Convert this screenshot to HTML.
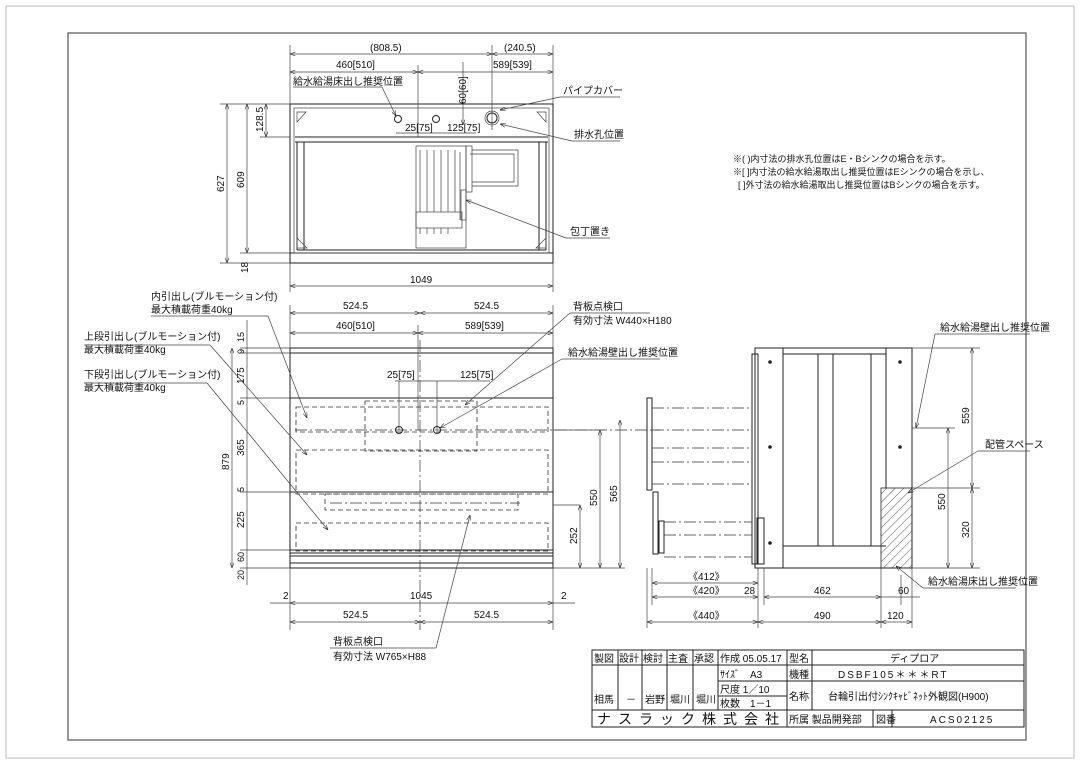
<!DOCTYPE html><html><head><meta charset="utf-8"><style>
body{margin:0;background:#fff}svg{display:block}
text{font-family:"Liberation Sans","Noto Sans CJK JP",sans-serif;font-size:10px;fill:#111}
.l{stroke:#222;stroke-width:1;fill:none}.t{stroke:#444;stroke-width:.7;fill:none}
.d{stroke:#333;stroke-width:.8;fill:none;stroke-dasharray:5 3}
.c{stroke:#333;stroke-width:.7;fill:none;stroke-dasharray:12 3 2 3}
</style></head><body>
<svg width="1080" height="764" viewBox="0 0 1080 764">
<defs><marker id="a" markerWidth="8" markerHeight="6" refX="8" refY="3" orient="auto-start-reverse"><path d="M0,0L8,3L0,6" fill="none" stroke="#222" stroke-width=".8"/></marker>
<pattern id="h" width="6" height="6" patternUnits="userSpaceOnUse" patternTransform="rotate(45)"><line x1="0" y1="0" x2="0" y2="6" stroke="#333" stroke-width=".8"/></pattern></defs>
<rect x="6" y="6" width="1068" height="752" fill="none" stroke="#bbb"/>
<rect x="68" y="33" width="958" height="707" fill="none" stroke="#555" stroke-width="1.2"/>
<!-- TOP VIEW -->
<rect class="l" x="290" y="104" width="263" height="149"/>
<rect class="l" x="290" y="253" width="263" height="10"/>
<line class="l" x1="295" y1="137" x2="548" y2="137"/><line class="l" x1="295" y1="142" x2="548" y2="142"/>
<rect class="t" x="294" y="108" width="255" height="145"/>
<line class="l" x1="297" y1="142" x2="297" y2="250"/><line class="l" x1="304" y1="142" x2="304" y2="250"/>
<line class="l" x1="539" y1="142" x2="539" y2="250"/><line class="l" x1="546" y1="142" x2="546" y2="250"/>
<line class="l" x1="297" y1="250" x2="546" y2="250"/>
<path class="t" d="M297,112 L306,112 L297,122Z M546,112 L537,112 L546,122Z M297,248 L297,238 L307,248Z M546,248 L546,238 L536,248Z"/>
<circle class="l" cx="398" cy="119" r="3.5"/><circle class="l" cx="436" cy="119" r="3.5"/>
<circle class="l" cx="492" cy="118" r="5"/><circle class="t" cx="492" cy="118" r="7"/>
<rect class="t" x="416" y="146" width="50" height="102"/><rect class="t" x="466" y="146" width="6" height="46"/>
<path class="t" d="M472,150 L518,150 L518,186 L472,186 M470,154 L514,154 L514,182 L472,182"/>
<path class="t" d="M420,150V212M427,150V212M434,150V212M441,150V212M448,150V212M455,150V212M460,152V220"/>
<rect class="t" x="416" y="212" width="46" height="16"/><path class="t" d="M420,228v6M427,228v6M434,228v6M441,228v6M448,228v6"/>
<rect class="t" x="461" y="190" width="5" height="30"/>
<line class="t" x1="290" y1="45" x2="290" y2="104"/><line class="t" x1="553" y1="45" x2="553" y2="104"/><line class="t" x1="492" y1="45" x2="492" y2="130"/><line class="t" x1="418" y1="65" x2="418" y2="137"/>
<line class="t" x1="290" y1="54" x2="492" y2="54" marker-start="url(#a)" marker-end="url(#a)"/>
<line class="t" x1="492" y1="54" x2="553" y2="54" marker-start="url(#a)" marker-end="url(#a)"/>
<line class="t" x1="290" y1="72" x2="418" y2="72" marker-start="url(#a)" marker-end="url(#a)"/>
<line class="t" x1="418" y1="72" x2="553" y2="72" marker-start="url(#a)" marker-end="url(#a)"/>
<text x="370" y="51">(808.5)</text><text x="504" y="51">(240.5)</text>
<text x="336" y="68">460[510]</text><text x="493" y="68">589[539]</text>
<line class="t" x1="463" y1="62" x2="463" y2="125" marker-end="url(#a)"/><text x="466" y="104" transform="rotate(-90 466 104)">60[60]</text>
<text x="405" y="131">25[75]</text><text x="447" y="131">125[75]</text>
<line class="t" x1="396" y1="133" x2="476" y2="133"/>
<line class="t" x1="293" y1="87" x2="382" y2="87"/><line class="t" x1="382" y1="87" x2="396" y2="116" marker-end="url(#a)"/><text x="293" y="85">給水給湯床出し推奨位置</text>
<line class="t" x1="560" y1="97" x2="620" y2="97"/><line class="t" x1="560" y1="97" x2="500" y2="110" marker-end="url(#a)"/><text x="563" y="94">パイプカバー</text>
<line class="t" x1="572" y1="141" x2="620" y2="141"/><line class="t" x1="572" y1="141" x2="500" y2="124" marker-end="url(#a)"/><text x="574" y="138">排水孔位置</text>
<line class="t" x1="566" y1="238" x2="610" y2="238"/><line class="t" x1="566" y1="238" x2="466" y2="200" marker-end="url(#a)"/><text x="570" y="235">包丁置き</text>
<line class="t" x1="220" y1="104" x2="290" y2="104"/><line class="t" x1="220" y1="263" x2="290" y2="263"/><line class="t" x1="240" y1="253" x2="290" y2="253"/><line class="t" x1="260" y1="137" x2="290" y2="137"/>
<line class="t" x1="227" y1="104" x2="227" y2="263" marker-start="url(#a)" marker-end="url(#a)"/><text x="224" y="192" transform="rotate(-90 224 192)">627</text>
<line class="t" x1="247" y1="104" x2="247" y2="253" marker-start="url(#a)" marker-end="url(#a)"/><text x="244" y="188" transform="rotate(-90 244 188)">609</text>
<line class="t" x1="266" y1="104" x2="266" y2="137" marker-start="url(#a)" marker-end="url(#a)"/><text x="263" y="132" transform="rotate(-90 263 132)">128.5</text>
<text x="237" y="270" transform="rotate(-90 244 266)">18</text>
<line class="t" x1="290" y1="263" x2="290" y2="292"/><line class="t" x1="553" y1="263" x2="553" y2="292"/>
<line class="t" x1="290" y1="286" x2="553" y2="286" marker-start="url(#a)" marker-end="url(#a)"/><text x="410" y="283">1049</text>
<text x="733" y="162" style="font-size:9px">※( )内寸法の排水孔位置はE・Bシンクの場合を示す。</text>
<text x="733" y="175" style="font-size:9px">※[ ]内寸法の給水給湯取出し推奨位置はEシンクの場合を示し、</text>
<text x="738" y="188" style="font-size:9px">[ ]外寸法の給水給湯取出し推奨位置はBシンクの場合を示す。</text>
<!-- FRONT VIEW -->
<rect class="l" x="290" y="348" width="263" height="220"/>
<line class="l" x1="290" y1="353" x2="553" y2="353"/><line class="l" x1="290" y1="398" x2="553" y2="398"/><line class="l" x1="290" y1="492" x2="553" y2="492"/>
<line class="l" x1="290" y1="550" x2="553" y2="550"/><line class="l" x1="290" y1="553" x2="553" y2="553"/><line class="l" x1="290" y1="556" x2="553" y2="556"/><line class="l" x1="290" y1="563" x2="553" y2="563"/>
<rect class="d" x="296" y="407" width="252" height="25"/><rect class="d" x="296" y="450" width="252" height="44"/><rect class="d" x="296" y="523" width="252" height="28"/>
<rect class="d" x="365" y="401" width="112" height="50"/><rect class="d" x="325" y="494" width="193" height="16"/>
<line class="c" x1="420" y1="340" x2="420" y2="630"/><line class="c" x1="295" y1="430" x2="660" y2="430"/><line class="c" x1="330" y1="503" x2="520" y2="503"/>
<circle class="l" cx="399" cy="430" r="3.5"/><circle class="l" cx="437" cy="430" r="3.5"/>
<line class="t" x1="290" y1="305" x2="290" y2="348"/><line class="t" x1="553" y1="305" x2="553" y2="348"/><line class="t" x1="418" y1="325" x2="418" y2="430"/>
<line class="t" x1="290" y1="313" x2="420" y2="313" marker-start="url(#a)" marker-end="url(#a)"/><line class="t" x1="420" y1="313" x2="553" y2="313" marker-start="url(#a)" marker-end="url(#a)"/>
<text x="343" y="309">524.5</text><text x="474" y="309">524.5</text>
<line class="t" x1="290" y1="333" x2="418" y2="333" marker-start="url(#a)" marker-end="url(#a)"/><line class="t" x1="418" y1="333" x2="553" y2="333" marker-start="url(#a)" marker-end="url(#a)"/>
<text x="336" y="329">460[510]</text><text x="465" y="329">589[539]</text>
<line class="t" x1="399" y1="381" x2="399" y2="430"/><line class="t" x1="437" y1="381" x2="437" y2="430"/><line class="t" x1="395" y1="381" x2="490" y2="381"/>
<text x="387" y="378">25[75]</text><text x="460" y="378">125[75]</text>
<line class="t" x1="232" y1="348" x2="232" y2="568" marker-start="url(#a)" marker-end="url(#a)"/><text x="229" y="470" transform="rotate(-90 229 470)">879</text>
<line class="t" x1="247" y1="320" x2="247" y2="585"/>
<path class="t" d="M240,348H290M240,353H290M240,398H290M240,492H290M240,550H290M240,568H290"/>
<text x="244" y="342" transform="rotate(-90 244 342)" style="font-size:9px">15</text><text x="244" y="354" transform="rotate(-90 244 354)" style="font-size:9px">9</text>
<text x="244" y="384" transform="rotate(-90 244 384)">175</text><text x="244" y="405" transform="rotate(-90 244 405)" style="font-size:9px">5</text>
<text x="244" y="456" transform="rotate(-90 244 456)">365</text><text x="244" y="492" transform="rotate(-90 244 492)" style="font-size:9px">5</text>
<text x="244" y="528" transform="rotate(-90 244 528)">225</text><text x="244" y="562" transform="rotate(-90 244 562)" style="font-size:9px">60</text><text x="244" y="580" transform="rotate(-90 244 580)" style="font-size:9px">20</text>
<line class="t" x1="290" y1="568" x2="290" y2="630"/><line class="t" x1="553" y1="568" x2="553" y2="630"/>
<line class="t" x1="290" y1="603" x2="553" y2="603" marker-start="url(#a)" marker-end="url(#a)"/><text x="410" y="599">1045</text>
<line class="t" x1="270" y1="603" x2="290" y2="603"/><line class="t" x1="553" y1="603" x2="575" y2="603"/><text x="283" y="599">2</text><text x="561" y="599">2</text>
<line class="t" x1="290" y1="622" x2="420" y2="622" marker-start="url(#a)" marker-end="url(#a)"/><line class="t" x1="420" y1="622" x2="553" y2="622" marker-start="url(#a)" marker-end="url(#a)"/>
<text x="343" y="618">524.5</text><text x="474" y="618">524.5</text>
<line class="t" x1="553" y1="430" x2="605" y2="430"/><line class="t" x1="553" y1="505" x2="580" y2="505"/><line class="t" x1="553" y1="568" x2="625" y2="568"/>
<line class="t" x1="600" y1="430" x2="600" y2="568" marker-start="url(#a)" marker-end="url(#a)"/><text x="597" y="506" transform="rotate(-90 597 506)">550</text>
<line class="t" x1="620" y1="420" x2="620" y2="568" marker-start="url(#a)" marker-end="url(#a)"/><text x="617" y="502" transform="rotate(-90 617 502)">565</text>
<line class="t" x1="580" y1="505" x2="580" y2="568" marker-start="url(#a)" marker-end="url(#a)"/><text x="577" y="544" transform="rotate(-90 577 544)">252</text>
<text x="151" y="300">内引出し(ブルモーション付)</text><text x="151" y="313">最大積載荷重40kg</text><line class="t" x1="151" y1="316" x2="268" y2="316"/><line class="t" x1="268" y1="316" x2="307" y2="418" marker-end="url(#a)"/>
<text x="84" y="340">上段引出し(ブルモーション付)</text><text x="84" y="353">最大積載荷重40kg</text><line class="t" x1="84" y1="345" x2="210" y2="345"/><line class="t" x1="210" y1="345" x2="307" y2="455" marker-end="url(#a)"/>
<text x="84" y="378">下段引出し(ブルモーション付)</text><text x="84" y="391">最大積載荷重40kg</text><line class="t" x1="84" y1="383" x2="207" y2="383"/><line class="t" x1="207" y1="383" x2="328" y2="530" marker-end="url(#a)"/>
<text x="573" y="310">背板点検口</text><text x="573" y="324">有効寸法 W440×H180</text><line class="t" x1="570" y1="313" x2="650" y2="313"/><line class="t" x1="570" y1="313" x2="465" y2="405" marker-end="url(#a)"/>
<text x="568" y="356">給水給湯壁出し推奨位置</text><line class="t" x1="562" y1="359" x2="660" y2="359"/><line class="t" x1="562" y1="359" x2="440" y2="428" marker-end="url(#a)"/>
<text x="333" y="645">背板点検口</text><text x="333" y="660">有効寸法 W765×H88</text><line class="t" x1="330" y1="648" x2="436" y2="648"/><line class="t" x1="436" y1="648" x2="470" y2="515" marker-end="url(#a)"/>
<!-- SIDE VIEW -->
<rect class="l" x="755" y="348" width="157" height="220"/>
<line class="l" x1="783" y1="348" x2="783" y2="568"/><line class="l" x1="886" y1="348" x2="886" y2="488"/>
<line class="l" x1="783" y1="354" x2="886" y2="354"/><line class="l" x1="783" y1="546" x2="886" y2="546"/>
<line class="l" x1="818" y1="354" x2="818" y2="546"/><line class="l" x1="833" y1="354" x2="833" y2="546"/><line class="l" x1="871" y1="354" x2="871" y2="546"/>
<rect x="881" y="488" width="31" height="80" fill="url(#h)" stroke="#222" stroke-width=".8"/>
<rect class="l" x="752" y="354" width="6" height="210"/><rect class="l" x="757" y="518" width="7" height="46"/>
<rect class="l" x="647" y="398" width="5" height="92"/><rect class="l" x="653" y="492" width="5" height="62"/><rect class="l" x="659" y="521" width="5" height="32"/>
<path class="c" d="M652,408H752M652,430H752M652,448H752M652,462H752M652,484H752M664,522H752M664,535H752M664,557H752"/>
<g fill="#222"><circle cx="770" cy="362" r="1.8"/><circle cx="900" cy="362" r="1.8"/><circle cx="770" cy="447" r="1.8"/><circle cx="900" cy="447" r="1.8"/><circle cx="770" cy="543" r="1.8"/></g>
<path class="t" d="M912,348H980M912,428H955M912,488H980M912,568H980"/>
<line class="t" x1="972" y1="348" x2="972" y2="488" marker-start="url(#a)" marker-end="url(#a)"/><text x="969" y="424" transform="rotate(-90 969 424)">559</text>
<line class="t" x1="948" y1="428" x2="948" y2="568" marker-start="url(#a)" marker-end="url(#a)"/><text x="945" y="510" transform="rotate(-90 945 510)">550</text>
<line class="t" x1="972" y1="488" x2="972" y2="568" marker-start="url(#a)" marker-end="url(#a)"/><text x="969" y="538" transform="rotate(-90 969 538)">320</text>
<text x="940" y="331">給水給湯壁出し推奨位置</text><line class="t" x1="935" y1="334" x2="1030" y2="334"/><line class="t" x1="935" y1="334" x2="916" y2="428" marker-end="url(#a)"/>
<text x="985" y="448">配管スペース</text><line class="t" x1="978" y1="451" x2="1030" y2="451"/><line class="t" x1="978" y1="451" x2="908" y2="493" marker-end="url(#a)"/>
<text x="928" y="585">給水給湯床出し推奨位置</text><line class="t" x1="923" y1="588" x2="1016" y2="588"/><line class="t" x1="923" y1="588" x2="896" y2="566" marker-end="url(#a)"/>
<path class="t" d="M647,568V628M652,568V605M758,568V628M764,568V605M881,568V628M912,568V628M901,575V605"/>
<line class="t" x1="652" y1="583" x2="758" y2="583" marker-start="url(#a)" marker-end="url(#a)"/><text x="688" y="580">《412》</text>
<line class="t" x1="652" y1="597" x2="758" y2="597" marker-start="url(#a)" marker-end="url(#a)"/><text x="688" y="594">《420》</text>
<text x="744" y="594">28</text>
<line class="t" x1="647" y1="622" x2="758" y2="622" marker-start="url(#a)" marker-end="url(#a)"/><text x="688" y="619">《440》</text>
<line class="t" x1="764" y1="597" x2="881" y2="597" marker-start="url(#a)" marker-end="url(#a)"/><text x="814" y="594">462</text>
<line class="t" x1="758" y1="622" x2="881" y2="622" marker-start="url(#a)" marker-end="url(#a)"/><text x="814" y="619">490</text>
<line class="t" x1="881" y1="597" x2="920" y2="597"/><text x="898" y="594">60</text>
<line class="t" x1="881" y1="622" x2="912" y2="622" marker-start="url(#a)" marker-end="url(#a)"/><text x="887" y="619">120</text>
<!-- TITLE BLOCK -->
<g class="l" stroke-width="1">
<rect x="592" y="650" width="432" height="77"/>
<path d="M592,665H718M718,665H1024M718,681H1024M718,696H787M718,710H1024M592,710H787"/>
<path d="M618,650V710M642,650V710M667,650V710M693,650V710M718,650V710M787,650V727M812,650V710M873,710V727M892,710V727"/>
</g>
<g style="font-size:10px">
<text x="594" y="662">製図</text><text x="619" y="662">設計</text><text x="643" y="662">検討</text><text x="668" y="662">主査</text><text x="694" y="662">承認</text>
<text x="720" y="662">作成 05.05.17</text><text x="789" y="662">型名</text><text x="890" y="662">ディプロア</text>
<text x="720" y="678">ｻｲｽﾞ　A3</text><text x="789" y="678">機種</text><text x="838" y="678" style="letter-spacing:2px">DSBF105＊＊＊RT</text>
<text x="720" y="693">尺度 1／10</text><text x="789" y="700">名称</text><text x="828" y="700">台輪引出付ｼﾝｸｷｬﾋﾞﾈｯﾄ外観図(H900)</text>
<text x="720" y="707">枚数　1－1</text>
<text x="594" y="703">相馬</text><text x="626" y="703">－</text><text x="645" y="703">岩野</text><text x="670" y="703">堀川</text><text x="696" y="703">堀川</text>
<text x="597" y="724" style="font-size:14px;letter-spacing:7px">ナスラック株式会社</text>
<text x="789" y="723">所属 製品開発部</text><text x="876" y="723">図番</text><text x="930" y="723" style="letter-spacing:2px">ACS02125</text>
</g>
</svg></body></html>
